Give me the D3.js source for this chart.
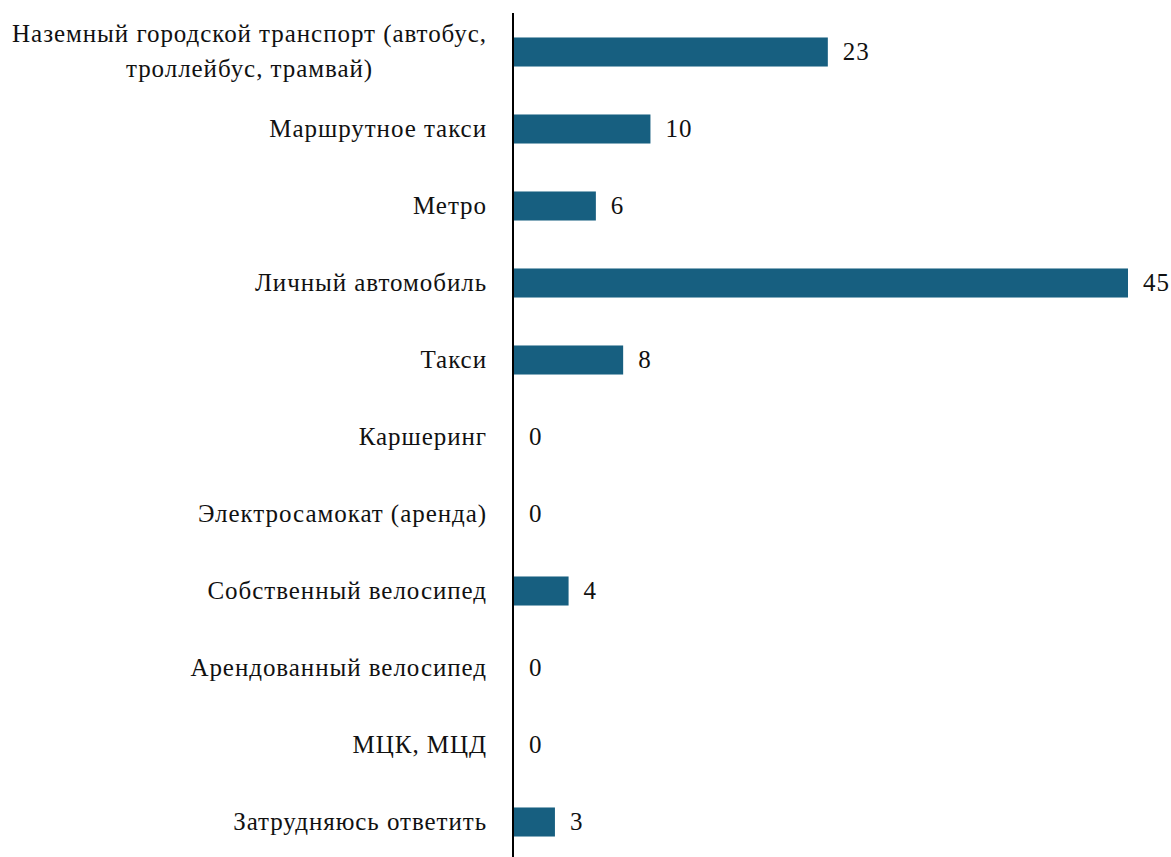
<!DOCTYPE html>
<html><head><meta charset="utf-8">
<script src="https://cdn.jsdelivr.net/npm/d3@7"></script>
<style>body{margin:0;background:#fff;} svg{display:block;}</style>
</head><body>
<svg id="chart" width="1171" height="857"></svg>
<script>
const categories = [
  ["Наземный городской транспорт (автобус,", "троллейбус, трамвай)"],
  ["Маршрутное такси"],
  ["Метро"],
  ["Личный автомобиль"],
  ["Такси"],
  ["Каршеринг"],
  ["Электросамокат (аренда)"],
  ["Собственный велосипед"],
  ["Арендованный велосипед"],
  ["МЦК, МЦД"],
  ["Затрудняюсь ответить"]
];
const values = [23, 10, 6, 45, 8, 0, 0, 4, 0, 0, 3];

const svg = d3.select("#chart");
const font = "Liberation Serif";
const fs = 25;
const ls = "0.95px";
const x0 = 514;
const x = d3.scaleLinear().domain([0, 45]).range([x0, 1128]);
const y = d3.scaleBand().domain(d3.range(categories.length)).range([13.5, 860.5])
  .paddingInner(0.623).paddingOuter(0.3115);

svg.selectAll("rect.bar").data(values).join("rect")
  .attr("class", "bar")
  .attr("x", x0)
  .attr("y", (d, i) => y(i))
  .attr("width", d => x(d) - x0)
  .attr("height", y.bandwidth())
  .attr("fill", "#175f80");

svg.selectAll("text.val").data(values).join("text")
  .attr("class", "val")
  .attr("x", d => x(d) + 15)
  .attr("y", (d, i) => y(i) + y.bandwidth() / 2)
  .attr("dy", "0.33em")
  .attr("font-family", font)
  .attr("font-size", fs)
  .attr("letter-spacing", ls)
  .attr("fill", "#111")
  .text(d => d);

const labelG = svg.append("g");
categories.forEach((lines, i) => {
  const cy = y(i) + y.bandwidth() / 2;
  const lh = 35;
  if (lines.length === 1) {
    labelG.append("text")
      .attr("x", 487).attr("y", cy).attr("dy", "0.33em")
      .attr("text-anchor", "end")
      .attr("font-family", font).attr("font-size", fs).attr("letter-spacing", ls).attr("fill", "#111")
      .text(lines[0]);
  } else {
    const t1 = labelG.append("text")
      .attr("x", 487).attr("y", cy - lh / 2 - 1).attr("dy", "0.33em")
      .attr("text-anchor", "end")
      .attr("font-family", font).attr("font-size", fs).attr("letter-spacing", ls).attr("fill", "#111")
      .text(lines[0]);
    const w = t1.node().getBBox().width;
    labelG.append("text")
      .attr("x", 487 - w / 2).attr("y", cy + lh / 2 - 1).attr("dy", "0.33em")
      .attr("text-anchor", "middle")
      .attr("font-family", font).attr("font-size", fs).attr("letter-spacing", ls).attr("fill", "#111")
      .text(lines[1]);
  }
});

svg.append("line")
  .attr("x1", 513).attr("x2", 513)
  .attr("y1", 13).attr("y2", 857)
  .attr("stroke", "#000").attr("stroke-width", 2);
</script>
</body></html>
